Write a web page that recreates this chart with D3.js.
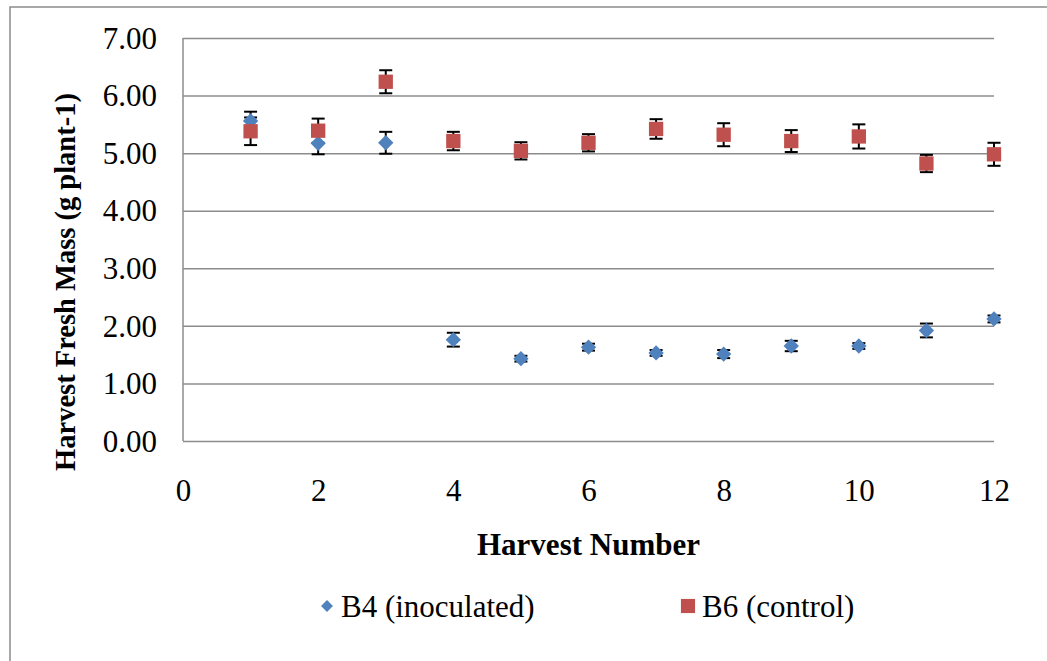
<!DOCTYPE html>
<html>
<head>
<meta charset="utf-8">
<script src="https://cdn.jsdelivr.net/npm/d3@7"></script>
<style>
  body { margin: 0; background: #fff; }
</style>
</head>
<body>
<svg id="chart" width="1047" height="661"></svg>
<script>
// harvest numbers
const harvest = [1, 2, 3, 4, 5, 6, 7, 8, 9, 10, 11, 12];
// B4 (inoculated) means and error
const b4Mean = [5.56, 5.17, 5.18, 1.76, 1.43, 1.63, 1.53, 1.51, 1.65, 1.65, 1.92, 2.12];
const b4Err = [0.16, 0.19, 0.19, 0.12, 0.05, 0.06, 0.05, 0.07, 0.09, 0.05, 0.12, 0.06];
// B6 (control) means and error
const b6Mean = [5.38, 5.39, 6.24, 5.21, 5.04, 5.18, 5.42, 5.32, 5.21, 5.29, 4.82, 4.98];
const b6Err = [0.24, 0.21, 0.20, 0.16, 0.15, 0.15, 0.17, 0.20, 0.19, 0.21, 0.15, 0.20];
const yTicks = [0, 1, 2, 3, 4, 5, 6, 7];
const xTicks = [0, 2, 4, 6, 8, 10, 12];

const FONT = "'Liberation Serif', 'Times New Roman', Times, 'DejaVu Serif', serif";
const svg = d3.select('#chart').style('font-family', FONT);
const plot = { left: 183, right: 994, top: 38, bottom: 441 };
const blue = '#4F81BD', red = '#C0504D', gridCol = '#8c8c8c';

const x = d3.scaleLinear().domain([0, 12]).range([plot.left, plot.right]);
const y = d3.scaleLinear().domain([0, 7]).range([plot.bottom, plot.top]);

// outer chart frame
svg.append('rect')
    .attr('x', 10).attr('y', 7)
    .attr('width', 1060).attr('height', 680)
    .attr('fill', 'none')
    .attr('stroke', gridCol)
    .attr('stroke-width', 1.5);

// y axis w/ gridlines
const yAxis = svg.append('g')
    .attr('transform', `translate(${plot.left},0)`)
    .call(d3.axisLeft(y).tickValues(yTicks).tickFormat(d3.format('.2f'))
        .tickSizeInner(-(plot.right - plot.left)).tickSizeOuter(0).tickPadding(26));
yAxis.attr('font-family', null).attr('font-size', null);
yAxis.select('.domain').remove();
yAxis.selectAll('.tick line').attr('stroke', gridCol).attr('stroke-width', 1.5);
yAxis.selectAll('.tick text').style('font-family', FONT).style('font-size', '31px')
    .attr('fill', '#000').attr('dy', '0.33em');

// left axis line
svg.append('line')
    .attr('x1', plot.left).attr('x2', plot.left)
    .attr('y1', plot.top).attr('y2', plot.bottom)
    .attr('stroke', gridCol).attr('stroke-width', 1.5);

// x axis labels
const xAxis = svg.append('g')
    .attr('transform', `translate(0,${plot.bottom})`)
    .call(d3.axisBottom(x).tickValues(xTicks).tickSize(0).tickPadding(38));
xAxis.attr('font-family', null).attr('font-size', null);
xAxis.select('.domain').remove();
xAxis.selectAll('.tick text').style('font-family', FONT).style('font-size', '31px').attr('fill', '#000');

// axis titles
svg.append('text')
    .attr('x', (plot.left + plot.right) / 2)
    .attr('y', 555)
    .attr('text-anchor', 'middle')
    .style('font-family', FONT)
    .style('font-size', '31px')
    .style('font-weight', 'bold')
    .text('Harvest Number');

svg.append('text')
    .attr('transform', 'translate(75,282) rotate(-90)')
    .attr('text-anchor', 'middle')
    .style('font-family', FONT)
    .style('font-size', '28.5px')
    .style('font-weight', 'bold')
    .text('Harvest Fresh Mass (g plant-1)');

const series = [
    { name: 'B4 (inoculated)', mean: b4Mean, err: b4Err, color: blue, shape: d3.symbolDiamond2 },
    { name: 'B6 (control)', mean: b6Mean, err: b6Err, color: red, shape: d3.symbolSquare }
];

// error bars first, markers on top
series.forEach(s => {
    const eb = svg.append('g').attr('class', 'errbars');
    harvest.forEach((h, i) => {
        const cx = x(h), lo = y(s.mean[i] - s.err[i]), hi = y(s.mean[i] + s.err[i]);
        eb.append('line').attr('x1', cx).attr('x2', cx).attr('y1', lo).attr('y2', hi)
            .attr('stroke', '#000').attr('stroke-width', 2);
        [lo, hi].forEach(yy => eb.append('line')
            .attr('x1', cx - 6.5).attr('x2', cx + 6.5).attr('y1', yy).attr('y2', yy)
            .attr('stroke', '#000').attr('stroke-width', 2));
    });
});

series.forEach(s => {
    svg.append('g').selectAll('path')
        .data(harvest)
        .enter()
        .append('path')
        .attr('transform', (h, i) => `translate(${x(h)},${y(s.mean[i])})`)
        .attr('d', d3.symbol().type(s.shape).size(s.shape === d3.symbolSquare ? 205 : 150))
        .attr('fill', s.color);
});

// legend
const legendY = 606;
const leg = [
    { s: series[0], mx: 327, tx: 341, size: 90 },
    { s: series[1], mx: 688, tx: 702, size: 200 }
];
leg.forEach(l => {
    svg.append('path')
        .attr('transform', `translate(${l.mx},${legendY})`)
        .attr('d', d3.symbol().type(l.s.shape).size(l.size))
        .attr('fill', l.s.color);
    svg.append('text')
        .attr('x', l.tx).attr('y', legendY + 11)
        .style('font-family', FONT)
        .style('font-size', '31px')
        .text(l.s.name);
});
</script>
</body>
</html>
